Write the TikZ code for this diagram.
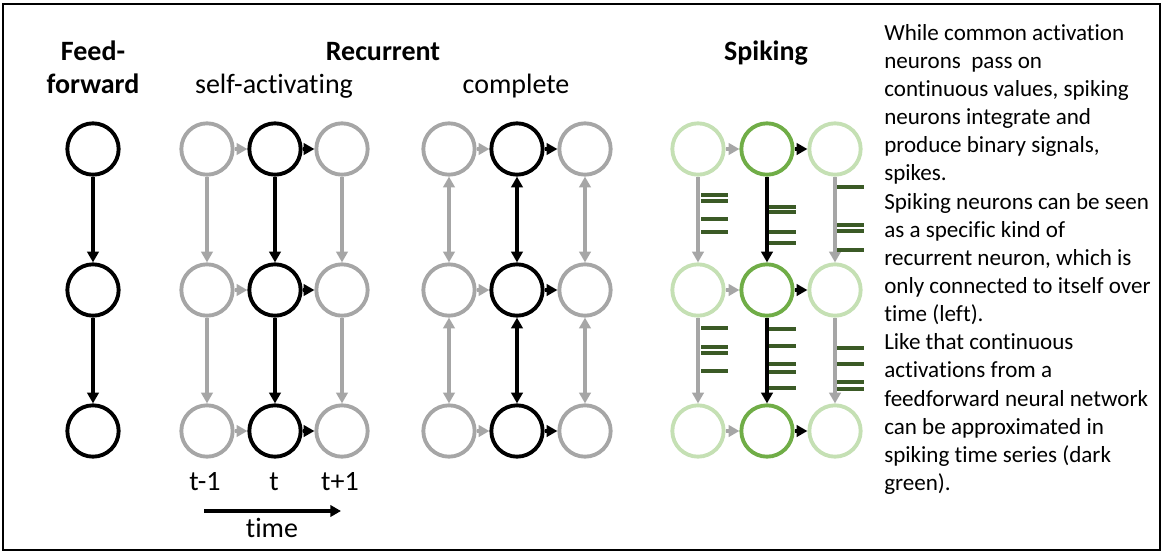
\documentclass[tikz,border=0pt]{standalone}
\usepackage{fontspec}
\setmainfont{Carlito}[Ligatures=NoCommon]
\usetikzlibrary{arrows.meta}
\definecolor{neurgray}{HTML}{A6A6A6}
\definecolor{lightgreen}{HTML}{C5E0B4}
\definecolor{midgreen}{HTML}{70AD47}
\definecolor{spikegreen}{HTML}{3B5A26}
\begin{document}
\begin{tikzpicture}[x=0.75pt,y=-0.75pt,>={Triangle[length=8pt,width=8.5pt]},
neuron/.style={circle,draw,line width=2.9pt,minimum size=38.5pt,inner sep=0pt},
faint/.style={neuron,draw=neurgray},
leaf/.style={neuron,draw=lightgreen},
spiker/.style={neuron,draw=midgreen},
link/.style={->,line width=2.7pt},
glink/.style={link,draw=neurgray},
spike/.style={draw=spikegreen,line width=3.2pt},
head/.style={anchor=base,font=\fontsize{21}{25}\selectfont\bfseries},
lbl/.style={anchor=base,font=\fontsize{21}{25}\selectfont}]
\useasboundingbox (0,0) rectangle (1164,554);
\draw[line width=1.6pt] (3,4) rectangle (1160,550);
% headings
\node[head] (ffa) at (93,60) {Feed-};
\node[head] (ffb) at (93,93) {forward};
\node[head] (rec) at (383,60) {Recurrent};
\node[lbl] (selfact) at (274,93) {self-activating};
\node[lbl] (compl) at (516,93) {complete};
\node[head] (spk) at (766,60) {Spiking};
% feed-forward
\node[neuron] (ff1) at (93,149) {};
\node[neuron] (ff2) at (93,290) {};
\node[neuron] (ff3) at (93,431) {};
\draw[link] (ff1)--(ff2);
\draw[link] (ff2)--(ff3);
% self-activating
\node[faint] (sL1) at (207,149) {};
\node[neuron] (sC1) at (275,149) {};
\node[faint] (sR1) at (342,149) {};
\node[faint] (sL2) at (207,290) {};
\node[neuron] (sC2) at (275,290) {};
\node[faint] (sR2) at (342,290) {};
\node[faint] (sL3) at (207,431) {};
\node[neuron] (sC3) at (275,431) {};
\node[faint] (sR3) at (342,431) {};
\draw[glink] (sL1)--(sC1); \draw[link] (sC1)--(sR1);
\draw[glink] (sL2)--(sC2); \draw[link] (sC2)--(sR2);
\draw[glink] (sL3)--(sC3); \draw[link] (sC3)--(sR3);
\draw[glink] (sL1)--(sL2); \draw[link] (sC1)--(sC2); \draw[glink] (sR1)--(sR2);
\draw[glink] (sL2)--(sL3); \draw[link] (sC2)--(sC3); \draw[glink] (sR2)--(sR3);
\node[lbl] (tm1) at (205,490) {t-1};
\node[lbl] (t0) at (274,490) {t};
\node[lbl] (tp1) at (340,490) {t+1};
\coordinate (tstart) at (204,511);
\coordinate (tend) at (341,511);
\draw[link] (tstart)--(tend);
\node[lbl] (time) at (272,537) {time};
% complete
\node[faint] (cL1) at (449,149) {};
\node[neuron] (cC1) at (517,149) {};
\node[faint] (cR1) at (585,149) {};
\node[faint] (cL2) at (449,290) {};
\node[neuron] (cC2) at (517,290) {};
\node[faint] (cR2) at (585,290) {};
\node[faint] (cL3) at (449,431) {};
\node[neuron] (cC3) at (517,431) {};
\node[faint] (cR3) at (585,431) {};
\draw[glink] (cL1)--(cC1); \draw[link] (cC1)--(cR1);
\draw[glink] (cL2)--(cC2); \draw[link] (cC2)--(cR2);
\draw[glink] (cL3)--(cC3); \draw[link] (cC3)--(cR3);
\draw[glink,<->] (cL1)--(cL2); \draw[link,<->] (cC1)--(cC2); \draw[glink,<->] (cR1)--(cR2);
\draw[glink,<->] (cL2)--(cL3); \draw[link,<->] (cC2)--(cC3); \draw[glink,<->] (cR2)--(cR3);
% spiking
\node[leaf] (pL1) at (698,149) {};
\node[spiker] (pC1) at (767,149) {};
\node[leaf] (pR1) at (835,149) {};
\node[leaf] (pL2) at (698,290) {};
\node[spiker] (pC2) at (767,290) {};
\node[leaf] (pR2) at (835,290) {};
\node[leaf] (pL3) at (698,431) {};
\node[spiker] (pC3) at (767,431) {};
\node[leaf] (pR3) at (835,431) {};
\draw[glink] (pL1)--(pC1); \draw[link] (pC1)--(pR1);
\draw[glink] (pL2)--(pC2); \draw[link] (pC2)--(pR2);
\draw[glink] (pL3)--(pC3); \draw[link] (pC3)--(pR3);
\draw[glink] (pL1)--(pL2); \draw[link] (pC1)--(pC2); \draw[glink] (pR1)--(pR2);
\draw[glink] (pL2)--(pL3); \draw[link] (pC2)--(pC3); \draw[glink] (pR2)--(pR3);
% spikes
\draw[spike] (701,195)--++(27,0) (701,201)--++(27,0) (701,219)--++(27,0) (701,232)--++(27,0);
\draw[spike] (769,207)--++(27,0) (769,212)--++(27,0) (769,232)--++(27,0) (769,243)--++(27,0);
\draw[spike] (837,187)--++(27,0) (837,225)--++(27,0) (837,231)--++(27,0) (837,250)--++(27,0);
\draw[spike] (701,328)--++(27,0) (701,347)--++(27,0) (701,353)--++(27,0) (701,371)--++(27,0);
\draw[spike] (769,329)--++(27,0) (769,346)--++(27,0) (769,364)--++(27,0) (769,372)--++(27,0) (769,388)--++(27,0);
\draw[spike] (837,348)--++(27,0) (837,364)--++(27,0) (837,382)--++(27,0) (837,389)--++(27,0);
% explanation
\node[anchor=north west,align=left,inner sep=0pt,font=\fontsize{17.3}{21.1}\selectfont] (note) at (884,24)
{While common activation\\neurons\ \ pass on\\continuous values, spiking\\neurons integrate and\\produce binary signals,\\spikes.\\Spiking neurons can be seen\\as a specific kind of\\recurrent neuron, which is\\only connected to itself over\\time (left).\\Like that continuous\\activations from a\\feedforward neural network\\can be approximated in\\spiking time series (dark\\green).};
\end{tikzpicture}
\end{document}
